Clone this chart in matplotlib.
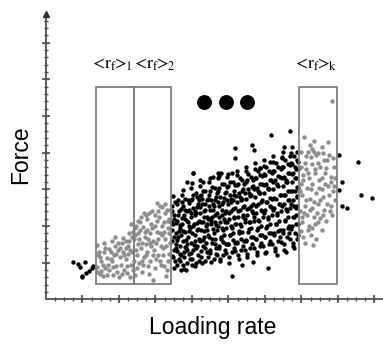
import numpy as np
import matplotlib
matplotlib.use('Agg')
import matplotlib.pyplot as plt
from matplotlib.patches import Rectangle

plt.rcParams['mathtext.fontset'] = 'stix'

# 数据单位: x 1格 = 1 (loading rate), y 1格 = 1 (force)
# 黑色散点 (盒子外)
bx = [3.45,3.50,3.47,3.55,3.44,3.52,3.48,3.58,3.62,3.65,3.60,3.68,3.63,3.57,3.66,3.54,3.69,3.46,3.59,3.67,3.51,3.64,
      3.72,3.75,3.78,3.73,3.81,3.76,3.84,3.79,3.74,3.88,3.92,3.86,3.94,3.90,3.85,3.93,3.87,3.83,3.71,3.80,3.91,3.77,
      3.97,4.00,4.03,3.98,4.06,4.01,4.09,4.04,3.99,4.07,4.12,4.16,4.11,4.18,4.14,4.19,4.13,4.17,4.10,4.02,3.96,4.15,4.08,
      4.22,4.25,4.28,4.23,4.31,4.26,4.34,4.29,4.24,4.37,4.41,4.36,4.43,4.39,4.44,4.38,4.42,4.35,4.27,4.33,4.40,4.30,4.21,
      4.47,4.50,4.53,4.48,4.56,4.51,4.59,4.54,4.49,4.62,4.66,4.61,4.68,4.64,4.69,4.63,4.67,4.60,4.52,4.58,4.65,4.46,4.57,
      4.72,4.75,4.78,4.73,4.81,4.76,4.84,4.79,4.74,4.87,4.91,4.86,4.93,4.89,4.94,4.88,4.92,4.85,4.77,4.83,4.90,4.71,4.80,
      4.97,5.00,5.03,4.98,5.06,5.01,5.09,5.04,4.99,5.12,5.16,5.11,5.18,5.14,5.19,5.13,5.17,5.10,5.02,5.09,5.07,5.15,4.96,
      5.22,5.25,5.28,5.23,5.31,5.26,5.34,5.29,5.24,5.37,5.41,5.36,5.43,5.39,5.44,5.38,5.42,5.35,5.27,5.36,5.32,5.40,5.21,
      5.47,5.50,5.53,5.48,5.56,5.51,5.59,5.54,5.49,5.62,5.66,5.61,5.68,5.64,5.69,5.63,5.67,5.60,5.52,5.68,5.57,5.65,5.46,
      5.72,5.75,5.78,5.73,5.81,5.76,5.84,5.79,5.74,5.87,5.91,5.86,5.93,5.89,5.94,5.88,5.92,5.85,5.77,5.82,5.90,5.71,5.86,
      5.97,6.00,6.03,5.98,6.06,6.01,6.09,6.04,5.99,6.12,6.16,6.11,6.18,6.14,6.19,6.13,6.17,6.10,6.02,6.09,6.07,6.15,5.96,
      6.22,6.25,6.28,6.23,6.31,6.26,6.34,6.29,6.24,6.37,6.41,6.36,6.43,6.39,6.44,6.38,6.42,6.35,6.27,6.32,6.40,6.21,6.33,
      6.47,6.50,6.53,6.48,6.56,6.51,6.59,6.54,6.49,6.62,6.66,6.61,6.68,6.64,6.69,6.63,6.67,6.60,6.52,6.57,6.65,6.46,6.58,
      6.72,6.75,6.78,6.73,6.81,6.76,6.84,6.79,6.74,6.87,6.90,6.86,6.91,6.88,6.89,6.85,6.90,6.83,6.77,6.82,6.89,6.71,6.80,
      4.03,3.85,4.72,5.09,5.18,5.18,5.64,5.71,6.16,6.68,6.52,5.86,6.14,6.46,6.68,6.87,
      0.74,0.87,0.93,1.07,1.00,1.09,1.18,1.25,1.30,0.98,
      8.03,8.10,8.03,8.56,8.63,8.94,8.10,8.24]
by = [2.55,2.30,2.05,1.80,1.60,1.35,1.15,0.95,2.70,2.40,2.15,1.95,1.70,1.50,1.25,1.05,0.80,1.90,2.60,1.45,2.20,1.10,
      2.85,2.55,2.30,2.05,1.85,1.60,1.40,1.15,0.95,2.70,2.45,2.15,1.95,1.70,1.50,1.25,1.00,0.80,1.75,2.45,2.00,1.30,
      3.05,2.75,2.50,2.25,2.05,1.80,1.60,1.35,1.10,0.90,2.90,2.60,2.35,2.15,1.90,1.65,1.45,1.20,1.00,3.45,1.55,2.80,2.40,
      3.10,2.85,2.60,2.35,2.10,1.90,1.70,1.45,1.17,2.95,2.70,2.45,2.20,2.00,1.75,1.55,1.30,1.05,2.75,2.25,1.90,3.20,1.60,
      3.20,2.95,2.70,2.45,2.25,2.05,1.80,1.55,1.26,3.05,2.80,2.55,2.35,2.10,1.90,1.65,1.40,1.10,2.15,2.60,1.25,1.70,3.35,
      3.30,3.05,2.80,2.55,2.30,2.10,1.90,1.65,1.40,3.15,2.90,2.65,2.40,2.20,1.95,1.75,1.50,1.20,1.05,2.45,1.35,2.00,3.45,
      3.35,3.10,2.85,2.60,2.40,2.20,1.95,1.75,1.50,3.20,2.95,2.70,2.50,2.25,2.05,1.80,1.55,1.30,1.15,0.64,2.75,1.40,2.10,
      3.40,3.15,2.90,2.65,2.45,2.25,2.00,1.80,1.55,3.25,3.00,2.75,2.55,2.30,2.10,1.85,1.60,1.35,1.20,0.94,2.80,1.45,2.05,
      3.50,3.25,3.00,2.75,2.50,2.30,2.10,1.85,1.60,3.35,3.10,2.85,2.60,2.40,2.15,1.95,1.70,1.40,1.25,1.03,2.90,1.50,2.20,
      3.55,3.30,3.05,2.80,2.60,2.35,2.15,1.90,1.65,3.40,3.15,2.90,2.70,2.45,2.25,2.00,1.75,1.45,1.30,2.95,1.55,2.25,3.59,
      3.65,3.40,3.15,2.90,2.65,2.45,2.20,1.95,1.70,3.50,3.25,3.00,2.75,2.55,2.30,2.05,1.80,1.50,1.30,0.87,3.05,1.60,2.35,
      3.75,3.50,3.25,3.00,2.75,2.50,2.30,2.05,1.80,3.60,3.35,3.10,2.85,2.60,2.40,2.15,1.90,1.60,1.40,3.15,1.70,2.45,1.20,
      3.85,3.60,3.35,3.10,2.85,2.60,2.40,2.15,1.90,3.70,3.45,3.20,2.95,2.70,2.50,2.25,2.00,1.70,1.50,3.25,1.80,2.55,1.30,
      4.00,3.70,3.45,3.20,2.95,2.70,2.50,2.25,2.00,3.80,3.55,3.30,3.05,2.80,2.55,2.30,2.05,1.80,1.55,3.60,1.65,2.60,1.40,
      3.45,3.21,3.44,3.45,4.12,3.85,4.21,4.07,4.48,4.60,4.16,3.59,3.75,3.89,3.91,4.03,
      1.03,0.97,0.88,1.02,0.64,0.71,0.78,0.85,0.92,0.60,
      3.94,3.21,2.98,3.75,2.85,2.77,2.55,2.49]
# 黑色散点, 密集区补充
bx2 = [3.44,3.50,3.53,3.57,3.60,3.66,3.69,3.46,3.59,3.64,3.51,3.63,3.48,3.56,3.68,3.43,
       3.73,3.75,3.80,3.82,3.87,3.90,3.93,3.71,3.84,3.91,3.78,3.86,3.76,3.80,3.94,3.72,
       3.98,4.02,4.04,4.08,4.12,4.15,4.18,3.97,4.09,4.16,4.01,4.14,4.00,4.05,4.19,3.96,
       4.22,4.25,4.29,4.33,4.35,4.40,4.43,4.24,4.32,4.41,4.28,4.37,4.23,4.30,4.44,4.21,
       4.47,4.52,4.54,4.58,4.62,4.63,4.68,4.49,4.57,4.66,4.51,4.64,4.48,4.55,4.69,4.46,
       4.72,4.75,4.81,4.83,4.85,4.90,4.93,4.74,4.82,4.91,4.78,4.87,4.73,4.80,4.94,4.71,
       4.97,5.02,5.04,5.08,5.12,5.13,5.18,4.99,5.07,5.16,5.01,5.14,4.98,5.05,5.19,4.96,
       5.22,5.25,5.31,5.33,5.35,5.40,5.43,5.24,5.32,5.41,5.28,5.37,5.23,5.30,5.44,5.21,
       5.47,5.52,5.54,5.58,5.62,5.63,5.68,5.49,5.57,5.66,5.51,5.64,5.48,5.55,5.69,5.46,
       5.72,5.75,5.81,5.83,5.85,5.90,5.93,5.74,5.82,5.91,5.78,5.87,5.73,5.80,5.94,5.71,
       5.97,6.02,6.04,6.08,6.12,6.13,6.18,5.99,6.07,6.16,6.01,6.14,5.98,6.05,6.19,5.96,
       6.22,6.25,6.31,6.33,6.35,6.40,6.43,6.24,6.32,6.41,6.28,6.37,6.23,6.30,6.44,6.21,
       6.47,6.52,6.54,6.58,6.62,6.63,6.68,6.49,6.57,6.66,6.51,6.64,6.48,6.55,6.69,6.46,
       6.72,6.74,6.79,6.81,6.84,6.87,6.90,6.71,6.80,6.88,6.77,6.86,6.73,6.78,6.91,6.75]
by2 = [2.41,1.71,2.66,2.09,1.31,2.04,2.47,1.19,1.61,1.86,0.87,2.31,2.82,1.41,1.04,2.12,
       2.66,1.88,2.74,2.19,1.36,2.11,2.62,1.21,1.63,1.86,0.84,2.41,2.98,1.44,1.09,2.21,
       2.71,1.99,2.86,2.31,1.41,2.09,2.71,1.26,1.76,1.91,0.93,2.52,3.17,1.49,1.04,2.36,
       2.81,2.11,2.96,2.41,1.39,2.26,2.74,1.31,1.86,2.06,0.99,2.61,3.26,1.61,1.16,2.51,
       2.84,2.21,3.06,2.44,1.51,2.31,2.91,1.36,1.91,2.04,1.03,2.71,3.31,1.66,1.21,2.56,
       2.96,2.26,3.16,2.61,1.56,2.36,2.94,1.46,1.96,2.11,1.09,2.76,3.36,1.71,1.26,2.66,
       3.06,2.36,3.21,2.66,1.61,2.46,3.11,1.51,2.01,2.21,0.99,2.86,3.41,1.76,1.31,2.71,
       3.11,2.41,3.31,2.71,1.66,2.51,3.16,1.56,2.06,2.26,1.11,2.96,3.51,1.86,1.36,2.81,
       3.21,2.46,3.41,2.81,1.71,2.56,3.26,1.61,2.11,2.36,1.16,3.06,3.61,1.91,1.41,2.91,
       3.31,2.56,3.51,2.91,1.76,2.66,3.36,1.66,2.16,2.41,1.21,3.16,3.71,1.96,1.46,3.01,
       3.41,2.66,3.61,3.01,1.81,2.76,3.46,1.71,2.26,2.51,1.26,3.26,3.81,2.01,1.51,3.11,
       3.51,2.76,3.71,3.11,1.86,2.86,3.56,1.76,2.36,2.61,1.31,3.36,3.91,2.06,1.56,3.21,
       3.61,2.86,3.81,3.21,1.96,2.96,3.66,1.81,2.46,2.71,1.36,3.46,4.01,2.16,1.66,3.31,
       3.71,2.96,3.91,3.31,2.06,3.06,3.76,1.91,2.56,2.81,1.46,3.56,4.16,2.26,1.76,3.41]

# 灰色散点 (盒子 1, 2 内)
gx = [1.40,1.43,1.41,1.55,1.50,1.58,1.62,1.66,1.70,1.47,1.73,1.60,1.52,1.68,1.45,
      1.78,1.84,1.80,1.88,1.92,1.98,2.02,1.95,2.08,2.12,1.86,2.05,2.10,1.90,2.00,1.82,2.13,
      2.21,2.18,2.24,2.28,2.32,2.36,2.40,2.44,2.47,2.50,2.53,2.26,2.34,2.42,2.38,2.20,2.30,2.48,2.45,2.52,
      2.58,2.67,2.60,2.63,2.70,2.74,2.77,2.80,2.84,2.88,2.92,2.94,2.62,2.72,2.86,2.90,2.56,2.78,2.68,2.82,2.75,2.93,
      3.03,3.17,3.31,2.98,3.02,3.06,3.10,3.13,3.15,3.20,3.23,3.27,3.31,3.34,3.37,3.00,3.08,3.25,3.12,3.36,3.28,3.19,3.05,3.39,3.22,
      1.39,1.48,1.57,1.63,1.72,1.77,1.83,1.93,1.97,2.04,2.09,2.15,2.19,2.23,2.27,2.31,2.35,2.39,2.43,2.46,
      2.51,2.54,2.57,2.61,2.64,2.66,2.69,2.73,2.76,2.79,2.83,2.85,2.89,2.91,2.96,2.99,3.01,3.04,3.07,3.11,
      3.14,3.18,3.21,3.24,3.26,3.29,3.33,3.35,3.38,3.40]
gy = [1.49,1.21,0.89,0.64,1.05,1.30,0.85,1.12,0.95,0.70,1.38,1.55,0.78,0.68,1.30,
      1.30,0.67,1.05,1.45,0.90,1.35,1.15,0.75,1.55,1.67,1.20,0.95,1.30,1.70,0.60,1.60,0.80,
      0.71,1.10,1.45,1.80,0.95,1.30,1.65,0.67,2.00,1.20,1.50,1.25,2.05,1.05,1.85,1.60,0.60,0.85,1.75,2.15,
      2.12,1.98,1.40,1.05,1.70,2.30,1.30,0.90,1.55,2.05,1.20,0.53,0.75,1.85,1.80,2.40,1.65,2.20,1.15,0.70,1.50,1.60,
      2.62,2.53,2.44,2.00,1.55,1.20,2.25,1.80,0.95,1.40,2.10,1.65,0.80,1.95,1.25,0.85,2.40,2.35,1.05,2.20,0.65,1.75,1.85,1.55,0.90,
      0.75,1.15,0.95,1.40,0.80,1.10,0.88,1.25,1.55,1.40,0.70,1.20,1.40,0.90,1.60,1.35,1.70,0.80,1.95,1.35,
      1.80,1.00,1.90,2.25,1.55,0.95,2.35,1.20,1.90,1.65,2.35,1.05,1.45,1.95,1.35,2.30,1.10,2.15,1.65,2.55,
      1.45,2.00,1.20,1.85,2.60,1.45,2.15,1.05,1.80,2.45]

# 灰色散点 (盒子 k 内)
kx = [7.84,7.08,7.35,7.72,7.00,7.18,7.35,7.45,7.60,7.75,7.10,7.26,7.44,7.67,7.90,
      7.05,7.20,7.38,7.55,7.80,6.98,7.15,7.30,7.48,7.65,7.88,
      7.02,7.22,7.40,7.58,7.75,7.92,7.10,7.28,7.45,7.62,7.82,
      7.01,7.20,7.00,7.41,7.10,7.32,7.51,7.83,7.35,7.15,7.68,6.97,7.25,7.55,7.05,7.38,7.50,7.12,7.70,7.30,6.99,7.85,7.22,
      6.96,7.03,7.07,7.13,7.17,7.23,7.27,7.33,7.36,7.42,7.47,7.52,7.57,7.60,7.64,
      7.70,7.73,7.78,7.86,7.93,7.02,7.18,7.30,7.45,7.12,7.40,7.63,7.28,7.55,7.80]
ky = [5.42,4.42,4.33,4.28,4.03,4.02,4.03,4.00,4.00,3.95,3.71,3.88,3.73,3.57,3.60,
      3.40,3.30,3.45,3.30,3.35,3.15,3.05,3.15,3.05,3.15,3.10,
      2.85,2.75,2.90,2.80,2.85,2.70,2.55,2.50,2.60,2.45,2.55,
      2.12,2.00,1.87,1.66,1.53,1.48,2.21,2.30,2.25,2.30,2.15,2.40,1.75,1.90,1.70,2.05,3.60,3.55,3.80,3.70,3.60,3.85,4.20,
      2.95,3.25,2.35,2.70,3.45,2.45,3.00,2.65,3.55,2.35,3.25,2.70,3.00,2.30,3.45,
      2.60,3.10,2.40,2.95,3.30,2.25,1.90,1.95,2.10,3.90,3.95,3.80,4.10,4.15,3.20]

# 盒子 (左, 右)
box_left = [1.37, 2.41, 6.93]
box_right = [2.41, 3.42, 7.98]
box_bottom, box_top = 0.42, 5.78
box_labels = [r'$<\!\mathrm{r_f}\!\!>_{\!\!\mathrm{1}}$',
              r'$<\!\mathrm{r_f}\!\!>_{\!\!\mathrm{2}}$',
              r'$<\!\mathrm{r_f}\!\!>_{\!\!\mathrm{k}}$']
label_x = [1.79, 2.95, 7.38]

# 省略号大圆点
dots_x = [4.34, 4.92, 5.51]
dots_y = [5.37, 5.37, 5.37]

fig = plt.figure(figsize=(3.83, 3.49), dpi=100)
ax = fig.add_axes([0, 0, 1, 1])
ax.set_xlim(-1.26, 9.233)
ax.set_ylim(-1.349, 8.161)
ax.axis('off')

axc = '#505050'
# 坐标轴
ax.plot([0, 0], [0, 7.7], color=axc, lw=1.3, zorder=1)
ax.plot([0, 9.3], [0, 0], color=axc, lw=1.3, zorder=1)
ax.plot([0], [7.78], marker='^', color='#303030', ms=4.5, zorder=2)
yt = np.arange(0.2, 7.7, 0.2)
ax.plot(np.zeros(len(yt)), yt, ls='none', marker='_', ms=3, mew=1, color=axc)
ax.plot(np.zeros(7), np.arange(1, 8), ls='none', marker='_', ms=5.5, mew=1.2, color=axc)
xt = np.arange(0.25, 9.3, 0.25)
ax.plot(xt, np.zeros(len(xt)), ls='none', marker='|', ms=3, mew=1, color=axc)
ax.plot(np.arange(1, 10), np.zeros(9), ls='none', marker='|', ms=5.5, mew=1.2, color=axc)

# 散点
ax.scatter(bx, by, s=10, c='black', linewidths=0, zorder=3)
ax.scatter(bx2, by2, s=10, c='black', linewidths=0, zorder=3)
ax.scatter(gx, gy, s=10, c='#8c8c8c', linewidths=0, zorder=3)
ax.scatter(kx, ky, s=10, c='#8c8c8c', linewidths=0, zorder=3)

# 盒子
for l, r in zip(box_left, box_right):
    ax.add_patch(Rectangle((l, box_bottom), r - l, box_top - box_bottom,
                           fill=False, ec='#808080', lw=1.3, zorder=4))
for x, t in zip(label_x, box_labels):
    ax.text(x, 6.3, t, ha='center', va='baseline', fontsize=12.5)

ax.scatter(dots_x, dots_y, s=115, c='black', linewidths=0, zorder=5)

ax.text(-0.685, 3.94, 'Force', rotation=90, ha='center', va='center',
        fontsize=16.5, family='Liberation Sans')
ax.text(4.58, -0.95, 'Loading rate', ha='center', va='baseline',
        fontsize=16.5, family='Liberation Sans')

plt.savefig('out.png', dpi=100)
